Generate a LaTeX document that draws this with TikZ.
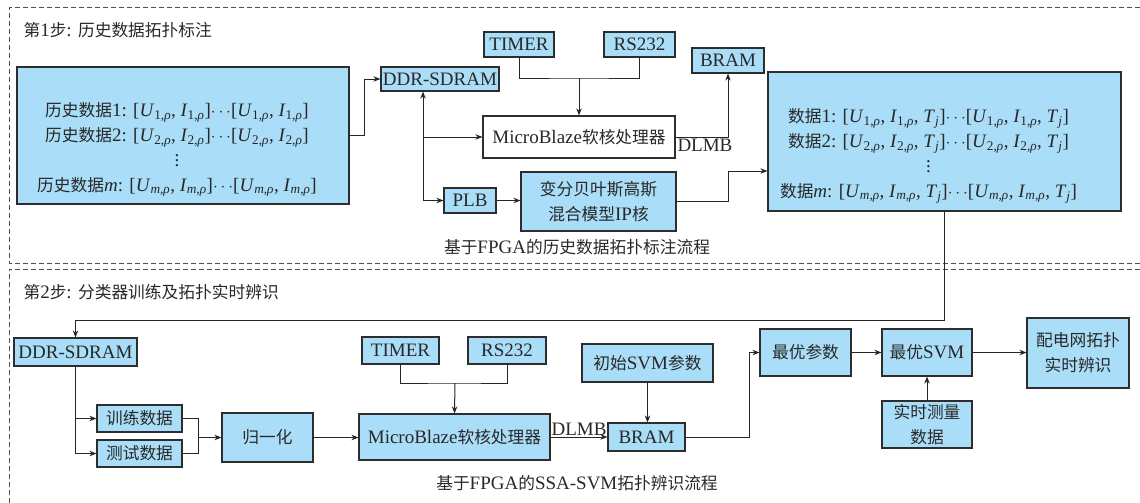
\documentclass[tikz,border=0pt]{standalone}
\usepackage{fontspec}
\setmainfont{Liberation Serif}
\newfontfamily\cjk{Noto Sans CJK SC}[Scale=0.88]
\newcommand{\zh}[1]{{\cjk #1}}
\newcommand{\sub}[1]{\textsubscript{#1,\textit{ρ}}}
\newcommand{\pair}[1]{[\textit{U}\sub{#1}, \textit{I}\sub{#1}]}
\newcommand{\trip}[1]{[\textit{U}\sub{#1}, \textit{I}\sub{#1}, \textit{T}\textsubscript{\textit{j}}]}
\newcommand{\dotsep}{$\cdots$}
\newcommand{\coldots}{\vbox{\baselineskip5pt\lineskiplimit0pt\hbox{.}\hbox{.}\hbox{.}}}
\usetikzlibrary{arrows.meta,positioning,calc}
\definecolor{boxcolor}{RGB}{170,222,248}
\definecolor{edgecolor}{RGB}{45,45,45}
\definecolor{textcolor}{RGB}{40,40,40}
\definecolor{framecolor}{RGB}{80,80,80}

\begin{document}
\begin{tikzpicture}[
    x=1pt, y=-1pt,
    every node/.style={text=textcolor, font=\fontsize{19}{25}\selectfont},
    box/.style={rectangle, draw=edgecolor, line width=1.2pt, fill=boxcolor, inner sep=0pt, align=center},
    arrow/.style={-{Stealth[length=7pt,width=5.5pt]}, line width=1pt, draw=black!85},
    wire/.style={line width=1pt, draw=black!85},
    frame/.style={dash pattern=on 5pt off 3pt, line width=1pt, draw=framecolor}
]
    \useasboundingbox (0,0) rectangle (1140,503);

    % Dashed panels
    \draw[frame] (1140,8) -- (9,8) -- (9,263) -- (1140,263);
    \draw[frame] (1140,269) -- (9,269) -- (9,503);
    \node[anchor=west] (title1) at (20,30) {\zh{第}1\zh{步}: \zh{历史数据拓扑标注}};
    \node[anchor=west] (title2) at (20,292) {\zh{第}2\zh{步}: \zh{分类器训练及拓扑实时辨识}};

    % Step 1: labelling of history data
    \node[box, minimum width=332pt, minimum height=137pt] (hist) at (183,135.5) {};
    \node[align=center, inner sep=0pt] (histtext) at ($(hist.center)+(-6,14)$)
        {\zh{历史数据}1: \pair{1}\dotsep\pair{1}\\
         \zh{历史数据}2: \pair{2}\dotsep\pair{2}\\
         \coldots\\
         \zh{历史数据}\textit{m}: \pair{\textit{m}}\dotsep\pair{\textit{m}}};
    \node[box, minimum width=118pt, minimum height=24pt] (ddr) at (440,79) {DDR-SDRAM};
    \node[box, minimum width=70pt, minimum height=25pt] (timer) at (519,44.5) {TIMER};
    \node[box, minimum width=71pt, minimum height=25pt] (rs) at (639.5,44.5) {RS232};
    \node[box, minimum width=72pt, minimum height=25pt] (bram) at (728,60.5) {BRAM};
    \node[box, fill=white, minimum width=192pt, minimum height=42pt] (mb) at (579,137) {MicroBlaze\zh{软核处理器}};
    \node[box, minimum width=52pt, minimum height=25pt] (plb) at (470,200.5) {PLB};
    \node[box, minimum width=155pt, minimum height=59pt] (vb) at (598.5,201.5)
        {\zh{变分贝叶斯高斯}\\\zh{混合模型}IP\zh{核}};
    \node[box, minimum width=353pt, minimum height=139pt] (data) at (944.5,141.5) {};
    \node[align=center, inner sep=0pt] (datatext) at ($(data.center)+(-16,14)$)
        {\zh{数据}1: \trip{1}\dotsep\trip{1}\\
         \zh{数据}2: \trip{2}\dotsep\trip{2}\\
         \coldots\\
         \zh{数据}\textit{m}: \trip{\textit{m}}\dotsep\trip{\textit{m}}};
    \node (cap1) at (577,247) {\zh{基于}FPGA\zh{的历史数据拓扑标注流程}};

    \coordinate (join1) at (579,78);
    \coordinate (bus) at (423,200.5);

    \draw[arrow] (hist.east) -- ++(15,0) |- (ddr.west);
    \draw[wire] (timer.south) |- (join1) -| (rs.south);
    \draw[arrow] (join1) -- (mb.north);
    \draw[arrow] (bus) -- (bus |- ddr.south);
    \draw[arrow] (bus |- mb.west) -- (mb.west);
    \draw[arrow] (bus) -- (plb.west);
    \draw[arrow] (plb.east) -- (plb.east -| vb.west);
    \draw[arrow] (mb.east) -| node[pos=0.28, below, inner sep=2pt] (dlmb1) {DLMB} (bram.south);
    \draw[arrow] (vb.east) -- ++(52,0) |- ($(data.west)+(0,29.5)$);

    % Step 2: classifier training and real-time identification
    \node[box, minimum width=123pt, minimum height=28pt] (ddr2) at (75.5,352) {DDR-SDRAM};
    \node[box, minimum width=85pt, minimum height=27pt] (train) at (139.5,418.5) {\zh{训练数据}};
    \node[box, minimum width=85pt, minimum height=27pt] (test) at (139.5,453.5) {\zh{测试数据}};
    \node[box, minimum width=91pt, minimum height=49pt] (norm) at (267.5,437.5) {\zh{归一化}};
    \node[box, minimum width=77pt, minimum height=27pt] (timer2) at (400.5,350.5) {TIMER};
    \node[box, minimum width=78pt, minimum height=27pt] (rs2) at (507,350.5) {RS232};
    \node[box, minimum width=191pt, minimum height=46pt] (mb2) at (454.5,437) {MicroBlaze\zh{软核处理器}};
    \node[box, minimum width=77pt, minimum height=28pt] (bram2) at (646.5,437) {BRAM};
    \node[box, minimum width=131pt, minimum height=38pt] (init) at (647.5,363) {\zh{初始}SVM\zh{参数}};
    \node[box, minimum width=91pt, minimum height=47pt] (best) at (805.5,352.5) {\zh{最优参数}};
    \node[box, minimum width=90pt, minimum height=47pt] (bsvm) at (927,352.5) {\zh{最优}SVM};
    \node[box, minimum width=102pt, minimum height=70pt] (topo) at (1078,353) {\zh{配电网拓扑}\\\zh{实时辨识}};
    \node[box, minimum width=90pt, minimum height=47pt] (meas) at (927,424.5) {\zh{实时测量}\\\zh{数据}};
    \node (cap2) at (577,483) {\zh{基于}FPGA\zh{的}SSA-SVM\zh{拓扑辨识流程}};

    \coordinate (join2) at (198,437.5);
    \coordinate (join3) at (455,383);

    \draw[arrow] (data.south) -- (data.south |- 0,320) -| (ddr2.north);
    \draw[arrow] (ddr2.south) |- (train.west);
    \draw[arrow] (ddr2.south) |- (test.west);
    \draw[wire] (train.east) -| (join2);
    \draw[wire] (test.east) -| (join2);
    \draw[arrow] (join2) -- (norm.west);
    \draw[arrow] (norm.east) -- (norm.east -| mb2.west);
    \draw[wire] (timer2.south) |- (join3) -| (rs2.south);
    \draw[arrow] (join3) -- (mb2.north);
    \draw[arrow] (mb2.east) -- node[above, inner sep=1pt] (dlmb2) {DLMB} (bram2.west);
    \draw[arrow] (init.south) -- (init.south |- bram2.north);
    \draw[arrow] (bram2.east) -- ++(64,0) |- (best.west);
    \draw[arrow] (best.east) -- (bsvm.west);
    \draw[arrow] (bsvm.east) -- (topo.west |- bsvm.east);
    \draw[arrow] (meas.north) -- (bsvm.south);
\end{tikzpicture}
\end{document}
